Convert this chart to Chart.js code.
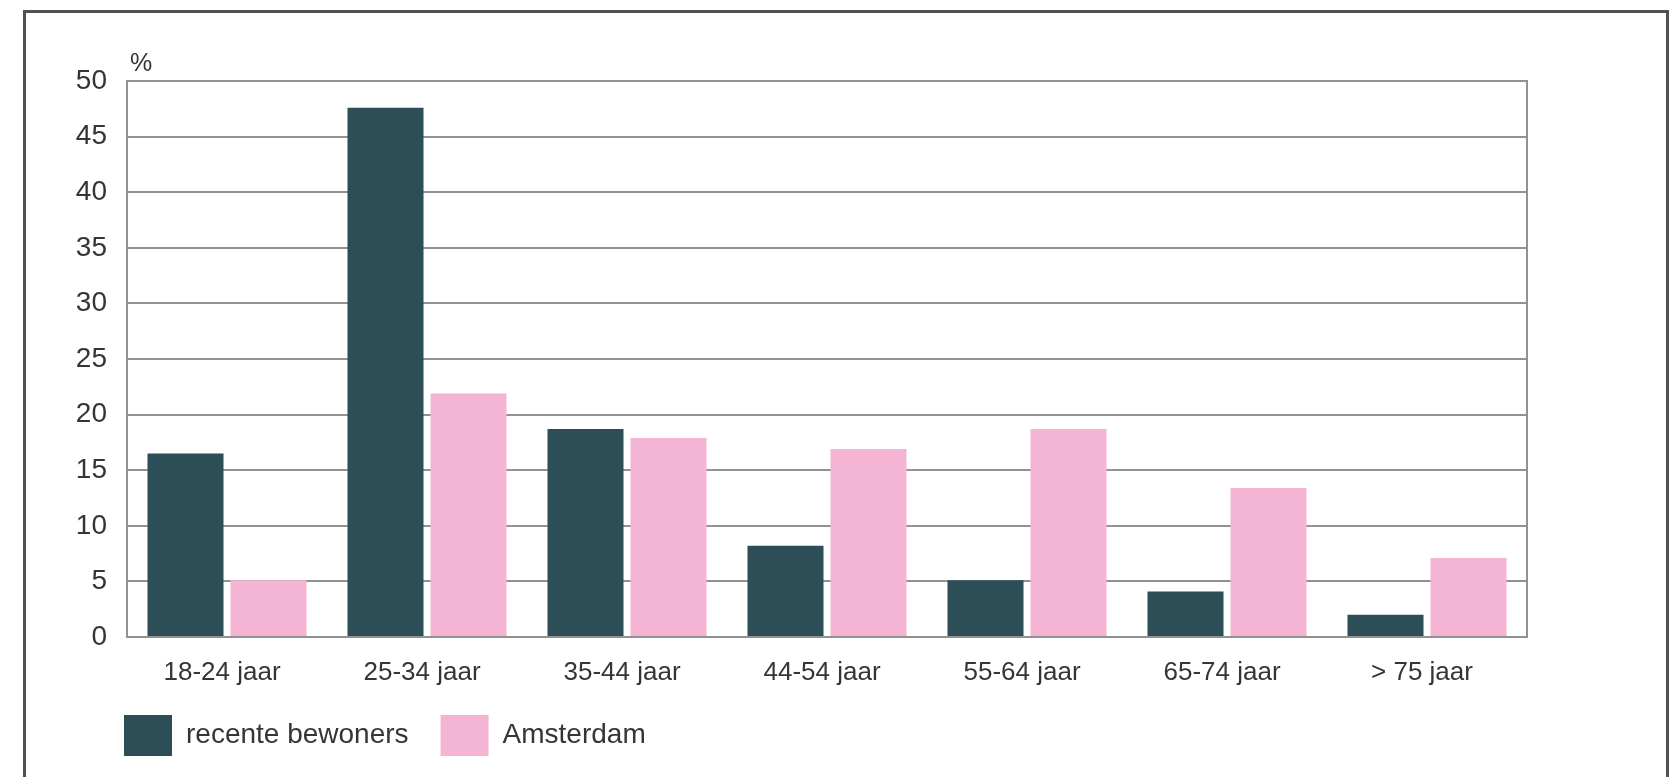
<!DOCTYPE html>
<html>
<head>
<meta charset="utf-8">
<title>Leeftijdsopbouw recente bewoners</title>
<script src="https://cdn.jsdelivr.net/npm/chart.js@4"></script>
<style>
  html, body { margin: 0; padding: 0; background: #ffffff; overflow: hidden; }
  #frame {
    position: absolute; left: 23px; top: 10px;
    width: 1640px; height: 820px;
    border: 3px solid #505050;
  }
  #chart { position: absolute; left: 0; top: 0; }
</style>
</head>
<body>
<div id="frame"></div>
<canvas id="chart" width="1675" height="777"></canvas>
<script>
// Age groups and share (%) per group
const ageGroups = ['18-24 jaar', '25-34 jaar', '35-44 jaar', '44-54 jaar', '55-64 jaar', '65-74 jaar', '> 75 jaar'];
const recentResidents = [16.5, 47.6, 18.7, 8.2, 5.1, 4.1, 2.0];
const amsterdamShare = [5.1, 21.9, 17.9, 16.9, 18.7, 13.4, 7.1];
const seriesNames = ['recente bewoners', 'Amsterdam'];
const yMin = 0, yMax = 50, yStep = 5;
const unitLabel = '%';

const FONT = '"Liberation Sans", Arial, sans-serif';
const TEXT = '#353535';
const GRID = '#929292';

// Small "%" caption above the value axis
const unitCaption = {
  id: 'unitCaption',
  afterDraw(chart) {
    const { ctx, chartArea } = chart;
    ctx.save();
    ctx.font = '25px ' + FONT;
    ctx.fillStyle = TEXT;
    ctx.textAlign = 'left';
    ctx.textBaseline = 'middle';
    ctx.fillText(unitLabel, chartArea.left + 3, chartArea.top - 17);
    ctx.restore();
  }
};

// Place the legend row: indented past the value labels, tucked under the category labels
const legendPlacement = {
  id: 'legendPlacement',
  afterLayout(chart) {
    const legend = chart.legend;
    if (!legend) return;
    legend.left = 92;
    legend.top = chart.chartArea.bottom + 46;
  }
};

new Chart(document.getElementById('chart'), {
  type: 'bar',
  data: {
    labels: ageGroups,
    datasets: [
      { label: seriesNames[0], data: recentResidents, backgroundColor: '#2d4d57', borderWidth: 0 },
      { label: seriesNames[1], data: amsterdamShare, backgroundColor: '#f4b4d4', borderWidth: 0 }
    ]
  },
  options: {
    responsive: false,
    animation: false,
    devicePixelRatio: 1,
    categoryPercentage: 0.83,
    barPercentage: 0.916,
    layout: { padding: { left: 50, right: 148, top: 81, bottom: 0 } },
    plugins: {
      legend: {
        position: 'bottom',
        align: 'start',
        labels: {
          boxWidth: 48,
          boxHeight: 41,
          padding: 32,
          color: TEXT,
          font: { family: FONT, size: 28 }
        }
      },
      tooltip: { enabled: false }
    },
    scales: {
      x: {
        grid: { display: false, drawTicks: false },
        border: { display: true, color: GRID, width: 2 },
        ticks: { color: TEXT, padding: 20, labelOffset: -5, font: { family: FONT, size: 26 } },
        afterFit(scale) { scale.height = 57; }
      },
      y: {
        min: yMin,
        max: yMax,
        grid: { color: GRID, lineWidth: 2, drawTicks: false },
        border: { display: true, color: GRID, width: 2 },
        ticks: { stepSize: yStep, color: TEXT, padding: 20, font: { family: FONT, size: 28 } },
        afterFit(scale) { scale.width = 77; }
      },
      yRight: {
        position: 'right',
        min: yMin,
        max: yMax,
        grid: { display: false, drawTicks: false },
        border: { display: true, color: GRID, width: 2 },
        ticks: { display: false },
        afterFit(scale) { scale.width = 0; }
      }
    }
  },
  plugins: [unitCaption, legendPlacement]
});
</script>
</body>
</html>
